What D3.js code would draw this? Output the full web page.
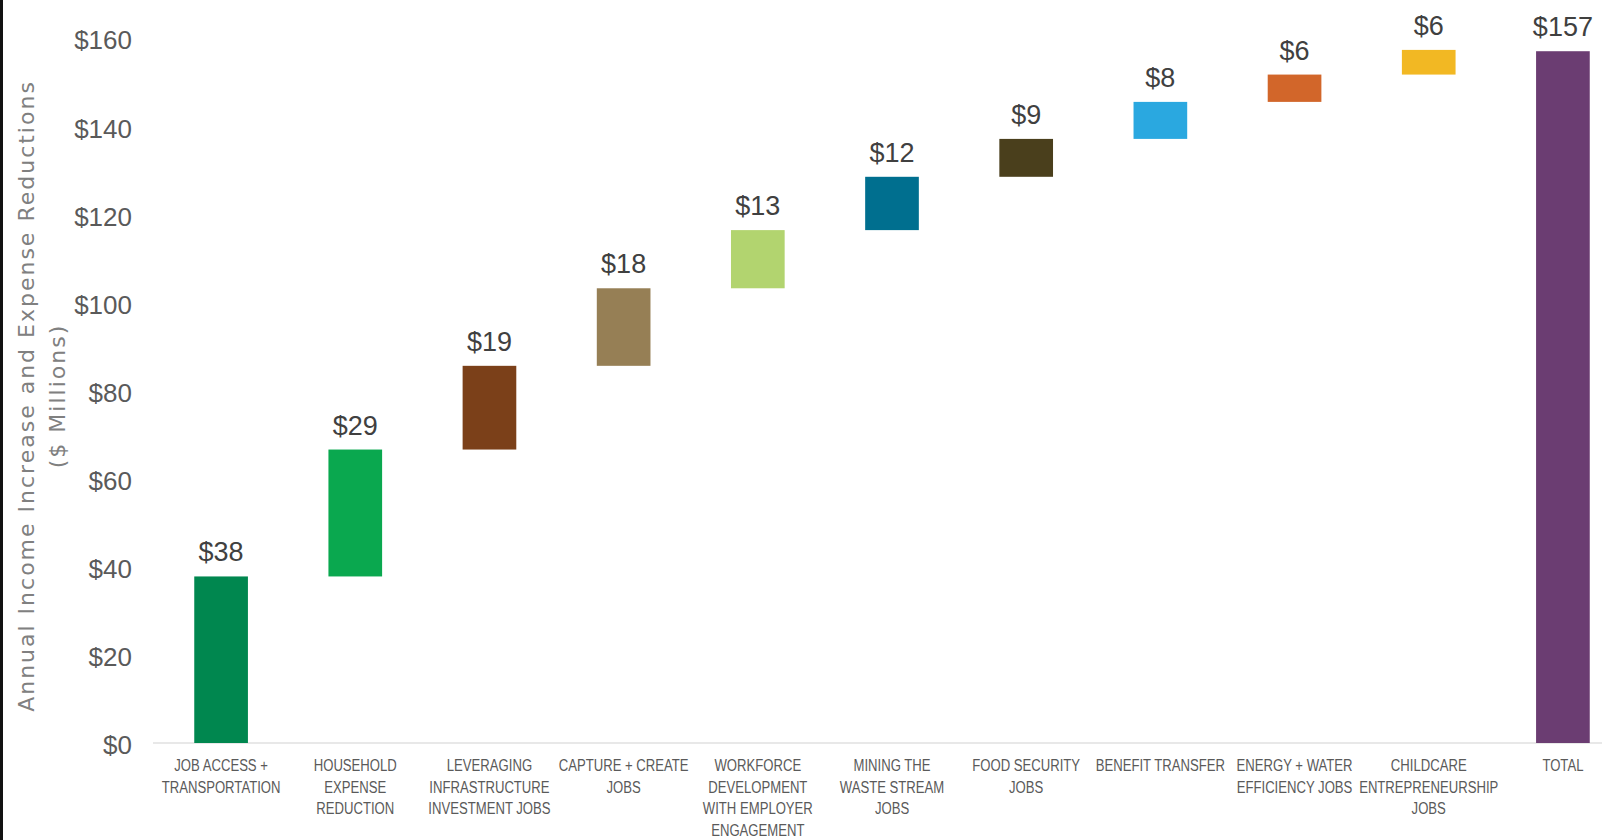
<!DOCTYPE html>
<html>
<head>
<meta charset="utf-8">
<script src="https://cdn.jsdelivr.net/npm/d3@7"></script>
<style>
  html, body { margin: 0; padding: 0; background: #fff; }
  svg { display: block; }
</style>
</head>
<body>
<svg id="chart" width="1602" height="840"></svg>
<script>
// ---- data ----
const categories = [
  "JOB ACCESS + TRANSPORTATION",
  "HOUSEHOLD EXPENSE REDUCTION",
  "LEVERAGING INFRASTRUCTURE INVESTMENT JOBS",
  "CAPTURE + CREATE JOBS",
  "WORKFORCE DEVELOPMENT WITH EMPLOYER ENGAGEMENT",
  "MINING THE WASTE STREAM JOBS",
  "FOOD SECURITY JOBS",
  "BENEFIT TRANSFER",
  "ENERGY + WATER EFFICIENCY JOBS",
  "CHILDCARE ENTREPRENEURSHIP JOBS",
  "TOTAL"
];
const categoryLines = [
  ["JOB ACCESS +", "TRANSPORTATION"],
  ["HOUSEHOLD", "EXPENSE", "REDUCTION"],
  ["LEVERAGING", "INFRASTRUCTURE", "INVESTMENT JOBS"],
  ["CAPTURE + CREATE", "JOBS"],
  ["WORKFORCE", "DEVELOPMENT", "WITH EMPLOYER", "ENGAGEMENT"],
  ["MINING THE", "WASTE STREAM", "JOBS"],
  ["FOOD SECURITY", "JOBS"],
  ["BENEFIT TRANSFER"],
  ["ENERGY + WATER", "EFFICIENCY JOBS"],
  ["CHILDCARE", "ENTREPRENEURSHIP", "JOBS"],
  ["TOTAL"]
];
const increments = [37.8, 28.8, 19.0, 17.6, 13.2, 12.1, 8.6, 8.4, 6.2, 5.6];
const totalValue = 157;
const barColors = ["#00874f", "#0aa84f", "#7b4019", "#967f55", "#b2d46f",
                   "#006f8f", "#4a3f1c", "#2aa8e0", "#d2662a", "#f2b823", "#6b3d72"];
const yTicks = [0, 20, 40, 60, 80, 100, 120, 140, 160];
const yTitle = "Annual Income Increase and Expense Reductions";
const yTitle2 = "($ Millions)";

// ---- build waterfall rows ----
let run = 0;
const rows = increments.map((v, i) => {
  const r = { cat: categories[i], start: run, end: run + v, label: "$" + Math.round(v), color: barColors[i] };
  run += v;
  return r;
});
rows.push({ cat: categories[10], start: 0, end: totalValue, label: "$" + totalValue, color: barColors[10] });

const svg = d3.select("#chart");

// left black frame edge
svg.append("rect").attr("x", 0).attr("y", 0).attr("width", 3).attr("height", 840).attr("fill", "#111");

const x = d3.scaleBand().domain(categories).range([154, 1630]).paddingInner(0.6).paddingOuter(0.3);
const y = d3.scaleLinear().domain([0, 160]).range([743, 38]);

// y axis labels
const yAxis = d3.axisLeft(y).tickValues(yTicks).tickSize(0).tickPadding(0).tickFormat(d => "$" + d);
const gy = svg.append("g").attr("transform", "translate(132,0)").call(yAxis);
gy.select(".domain").remove();
gy.selectAll("text")
  .attr("font-family", "'Liberation Sans', Arial, sans-serif")
  .attr("font-size", 26)
  .attr("fill", "#5a5a5a")
  .attr("dy", "0.42em");

// baseline
svg.append("line")
  .attr("x1", 153).attr("x2", 1602)
  .attr("y1", y(0)).attr("y2", y(0))
  .attr("stroke", "#e8e8e8").attr("stroke-width", 2);

// bars
svg.append("g").selectAll("rect").data(rows).join("rect")
  .attr("x", d => x(d.cat))
  .attr("width", x.bandwidth())
  .attr("y", d => y(d.end))
  .attr("height", d => y(d.start) - y(d.end))
  .attr("fill", d => d.color);

// value labels
svg.append("g").selectAll("text").data(rows).join("text")
  .attr("x", d => x(d.cat) + x.bandwidth() / 2)
  .attr("y", d => y(d.end) - 15)
  .attr("text-anchor", "middle")
  .attr("font-family", "'Liberation Sans', Arial, sans-serif")
  .attr("font-size", 27)
  .attr("fill", "#404040")
  .text(d => d.label);

// category labels (condensed via horizontal scale)
const cg = svg.append("g").selectAll("g").data(categories).join("g")
  .attr("transform", d => `translate(${x(d) + x.bandwidth() / 2},0) scale(0.82,1)`);
cg.each(function (d, i) {
  const t = d3.select(this).append("text")
    .attr("text-anchor", "middle")
    .attr("font-family", "'Liberation Sans', Arial, sans-serif")
    .attr("font-size", 16)
    .attr("fill", "#5a5a5a");
  categoryLines[i].forEach((line, k) => {
    t.append("tspan")
      .attr("x", 0)
      .attr("y", 771 + k * 21.6)
      .text(line);
  });
});

// y axis title
const tg = svg.append("g").attr("transform", "translate(0,396) rotate(-90)");
tg.append("text")
  .attr("x", 0).attr("y", 26).attr("dy", "0.35em")
  .attr("text-anchor", "middle")
  .attr("font-family", "'DejaVu Sans', sans-serif")
  .attr("font-size", 22)
  .attr("letter-spacing", 2)
  .attr("fill", "#808080")
  .text(yTitle);
tg.append("text")
  .attr("x", 0).attr("y", 57).attr("dy", "0.35em")
  .attr("text-anchor", "middle")
  .attr("font-family", "'DejaVu Sans', sans-serif")
  .attr("font-size", 22)
  .attr("letter-spacing", 2)
  .attr("fill", "#808080")
  .text(yTitle2);
</script>
</body>
</html>
